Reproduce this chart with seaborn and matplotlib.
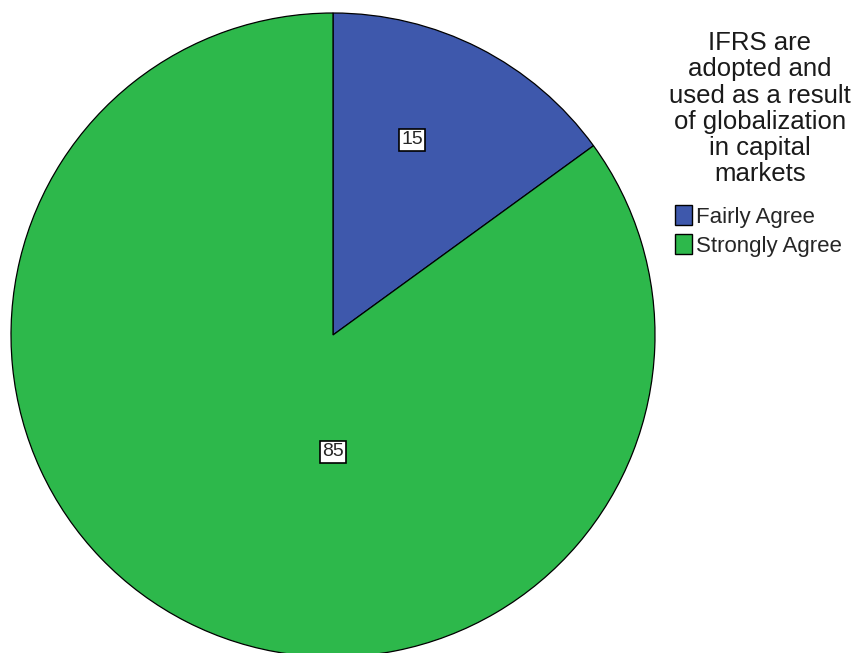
import matplotlib
matplotlib.use("Agg")
import matplotlib.pyplot as plt
import seaborn as sns
from matplotlib.patches import Patch

categories = ["Fairly Agree", "Strongly Agree"]
counts = [15, 85]
colors = ["#3E58AC", "#2DB84B"]
legend_title = "IFRS are\nadopted and\nused as a result\nof globalization\nin capital\nmarkets"

sns.set_theme(style="white")
plt.rcParams["font.family"] = ["Liberation Sans", "DejaVu Sans"]

fig = plt.figure(figsize=(8.58, 6.53), dpi=100)
fig.patch.set_facecolor("white")
ax = fig.add_axes([11 / 858, -4 / 653, 644 / 858, 644 / 653])

wedges, _ = ax.pie(
    counts,
    colors=colors,
    startangle=90,
    counterclock=False,
    radius=1.0,
    wedgeprops=dict(edgecolor="black", linewidth=0.9),
)
ax.set_xlim(-1.0, 1.0)
ax.set_ylim(-1.0, 1.0)
ax.set_aspect("equal")
ax.axis("off")

# value labels in boxed text
label_pos = [(0.245, 0.606), (0.0, -0.363)]
for (x, y), v in zip(label_pos, counts):
    ax.text(x, y, str(v), ha="center", va="center", fontsize=14,
            bbox=dict(boxstyle="square,pad=0.12", facecolor="white",
                      edgecolor="black", linewidth=1.2))

fig.text(760 / 858, 1 - 31 / 653, legend_title, ha="center", va="top",
         fontsize=18.5, color="#1a1a1a", linespacing=1.12)

handles = [Patch(facecolor=c, edgecolor="black", linewidth=1.0) for c in colors]
fig.legend(handles, categories, loc="upper left",
           bbox_to_anchor=(675 / 858, 1 - 205 / 653), frameon=False,
           fontsize=16, handlelength=0.75, handleheight=1.0,
           handletextpad=0.2, labelspacing=0.3, borderpad=0,
           borderaxespad=0)

fig.savefig("out.png", dpi=100, facecolor="white")
